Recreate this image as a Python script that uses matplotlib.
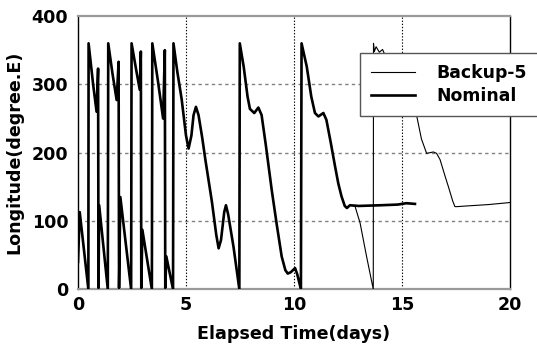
import matplotlib
matplotlib.use("Agg")
import matplotlib.pyplot as plt

# Nominal trajectory (elapsed days, longitude deg E)
nominal_t = [0.0, 0.08, 0.48, 0.49, 0.70, 0.86, 0.93, 0.95, 0.98, 1.38, 1.40, 1.60, 1.79,
             1.88, 1.90, 1.96, 2.46, 2.48, 2.70, 2.86, 2.91, 2.93, 2.98, 3.42, 3.44, 3.70,
             3.94, 4.02, 4.04, 4.09, 4.40, 4.42, 4.60, 4.80, 5.00, 5.12, 5.25, 5.35, 5.46,
             5.58, 5.75, 5.90, 6.20, 6.40, 6.51, 6.62, 6.77, 6.85, 6.95, 7.20, 7.47, 7.49,
             7.67, 7.85, 7.96, 8.16, 8.35, 8.50, 8.70, 8.97, 9.20, 9.43, 9.60, 9.71, 9.85,
             10.05, 10.15, 10.32, 10.35, 10.59, 10.80, 10.97, 11.13, 11.36, 11.50, 11.70,
             11.90, 12.05, 12.20, 12.35, 12.45, 12.59, 13.00, 14.00, 14.80, 15.20, 15.60]
nominal_lon = [40, 113, 0, 360, 300, 260, 323, 2, 123, 0, 360, 315, 277,
               333, 2, 135, 0, 360, 320, 292, 348, 2, 87, 0, 360, 305,
               250, 350, 2, 48, 0, 360, 318, 278, 225, 206, 225, 255, 267,
               255, 222, 189, 128, 80, 60, 72, 113, 123, 110, 62, 0, 360,
               326, 282, 264, 258, 266, 255, 210, 145, 95, 48, 28, 23, 25,
               31, 22, 0, 360, 326, 282, 258, 253, 258, 248, 215,
               180, 155, 136, 122, 119, 123, 122, 123, 124, 126, 125]

# Backup-5 follows the nominal trajectory until it diverges near day 12.6
backup_split_day = 12.59
backup_t_after = [12.82, 13.06, 13.36, 13.67, 13.68, 13.72, 13.80, 13.95, 14.10, 14.25,
                  14.60, 15.00, 15.68, 15.90, 16.14, 16.30, 16.45, 16.60, 16.76, 17.00,
                  17.15, 17.35, 17.45, 17.55, 18.00, 19.00, 20.00]
backup_lon_after = [122, 97, 48, 0, 360, 348, 355, 347, 351, 340,
                    318, 292, 254, 220, 199, 200, 201, 199, 190, 165,
                    150, 129, 121, 121, 122, 124, 127]

x_ticks = [0, 5, 10, 15, 20]
y_ticks = [0, 100, 200, 300, 400]

backup_t = [t for t in nominal_t if t <= backup_split_day] + backup_t_after
backup_lon = [v for t, v in zip(nominal_t, nominal_lon) if t <= backup_split_day] + backup_lon_after

FONT = "DejaVu Sans"
FS = 12.6

fig = plt.figure(figsize=(5.37, 3.48), dpi=100)
ax = fig.add_axes([78 / 537, 1 - 289.3 / 348, 432 / 537, 273.3 / 348])

ax.plot(backup_t, backup_lon, color="black", lw=0.8, label="Backup-5", zorder=3)
ax.plot(nominal_t, nominal_lon, color="black", lw=1.9, label="Nominal", zorder=4)

ax.set_xlim(0, 20)
ax.set_ylim(0, 400)
ax.set_xticks(x_ticks)
ax.set_yticks(y_ticks)
ax.set_xticklabels([str(v) for v in x_ticks], fontsize=FS, fontweight="bold", family=FONT)
ax.set_yticklabels([str(v) for v in y_ticks], fontsize=FS, fontweight="bold", family=FONT)
ax.tick_params(axis="both", length=0)
ax.tick_params(axis="x", pad=5)
ax.tick_params(axis="y", pad=7)

for yv in [100, 200, 300]:
    ax.axhline(yv, color="#808080", lw=1.0, linestyle=(0, (2.4, 2.4)), zorder=1)
for xv in [5, 10, 15]:
    ax.axvline(xv, color="black", lw=0.8, linestyle=(0, (1.2, 1.6)), zorder=1)

for s in ["top", "bottom"]:
    ax.spines[s].set_color("#9a9a9a")
    ax.spines[s].set_linewidth(1.6)
for s in ["left", "right"]:
    ax.spines[s].set_color("black")
    ax.spines[s].set_linewidth(1.0)

ax.set_xlabel("Elapsed Time(days)", fontsize=FS, fontweight="bold", family=FONT, labelpad=8)
ax.set_ylabel("Longitude(degree.E)", fontsize=FS, fontweight="bold", family=FONT, labelpad=6)

leg = ax.legend(loc="upper left", bbox_to_anchor=(0.6528, 0.6378, 0.43, 0.2257),
                mode="expand", frameon=True, fancybox=False, framealpha=1,
                edgecolor="#555555", handlelength=2.6, handletextpad=1.2,
                borderpad=0.62, labelspacing=0.3, borderaxespad=0,
                prop={"family": FONT, "weight": "bold", "size": 12.4})
leg.get_frame().set_linewidth(1.0)
leg.set_zorder(10)
leg.set_clip_on(False)

fig.savefig("out.png", dpi=100)
